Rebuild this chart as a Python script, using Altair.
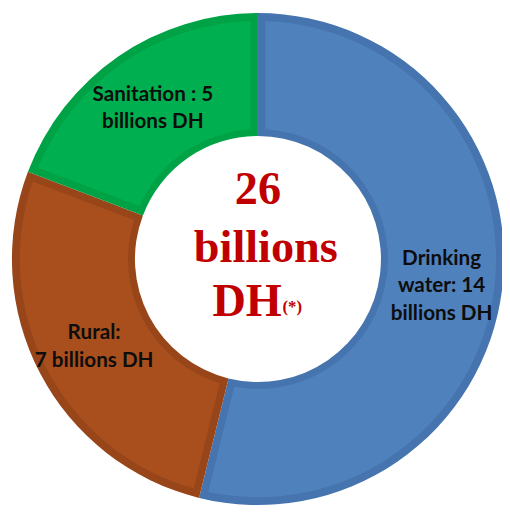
import altair as alt
import pandas as pd

categories = ["Drinking water", "Rural", "Sanitation"]
values = [14, 7, 5]
labels = ["Drinking\nwater: 14\nbillions DH", "Rural:\n7 billions DH", "Sanitation : 5\nbillions DH"]
fill_colors = ["#4F81BD", "#A94F1E", "#00B050"]
border_colors = ["#4574AE", "#974519", "#00A246"]
center_lines = ["26", "billions", "DH"]
center_note = "(*)"

df = pd.DataFrame({
    "category": categories,
    "value": values,
    "label": labels,
    "idx": list(range(len(categories))),
})

CX, CY = 254, 251

base = alt.Chart(df).encode(
    theta=alt.Theta("value:Q", stack=True),
    order=alt.Order("idx:Q"),
    x=alt.value(CX),
    y=alt.value(CY),
)

outer = base.mark_arc(outerRadius=250, innerRadius=125).encode(
    fill=alt.Fill("category:N", scale=alt.Scale(domain=categories, range=border_colors), legend=None)
)

inner = base.mark_arc(outerRadius=242, innerRadius=132, padAngle=0.055).encode(
    color=alt.Color("category:N", scale=alt.Scale(domain=categories, range=fill_colors), legend=None)
)

text_style = dict(radius=188, font="Lato", fontWeight="bold", fontSize=21, color="#0D0D0D",
                  lineBreak="\n", lineHeight=28, align="center", baseline="middle")

text3 = base.transform_calculate(
    nl="length(split(datum.label, '\\n'))",
    t="datum.nl == 3 ? datum.label : ''",
).mark_text(dy=-23, **text_style).encode(text="t:N")

text2 = base.transform_calculate(
    nl="length(split(datum.label, '\\n'))",
    t="datum.nl == 2 ? datum.label : ''",
).mark_text(dy=-12, **text_style).encode(text="t:N")

center_style = dict(font="Liberation Serif", fontWeight="bold", fontSize=47, color="#C00000",
                    align="center", baseline="alphabetic")
c1 = alt.Chart(pd.DataFrame({"t": [center_lines[0]]})).mark_text(**center_style).encode(
    text="t:N", x=alt.value(254), y=alt.value(195))
c2 = alt.Chart(pd.DataFrame({"t": [center_lines[1]]})).mark_text(**center_style).encode(
    text="t:N", x=alt.value(262), y=alt.value(254))
c3 = alt.Chart(pd.DataFrame({"t": [center_lines[2]]})).mark_text(**center_style).encode(
    text="t:N", x=alt.value(243), y=alt.value(309))
c4 = alt.Chart(pd.DataFrame({"t": [center_note]})).mark_text(
    font="Liberation Serif", fontWeight="bold", fontSize=17, color="#C00000",
    align="left", baseline="alphabetic").encode(
    text="t:N", x=alt.value(279), y=alt.value(305))

chart = alt.layer(outer, inner, text3, text2, c1, c2, c3, c4).resolve_scale(
    color="independent", fill="independent"
).properties(
    width=502, height=505, padding=0,
    autosize=alt.AutoSizeParams(type="none"),
).configure_view(stroke=None)

chart.save("out.html", embed_options={"renderer": "svg", "actions": False})
